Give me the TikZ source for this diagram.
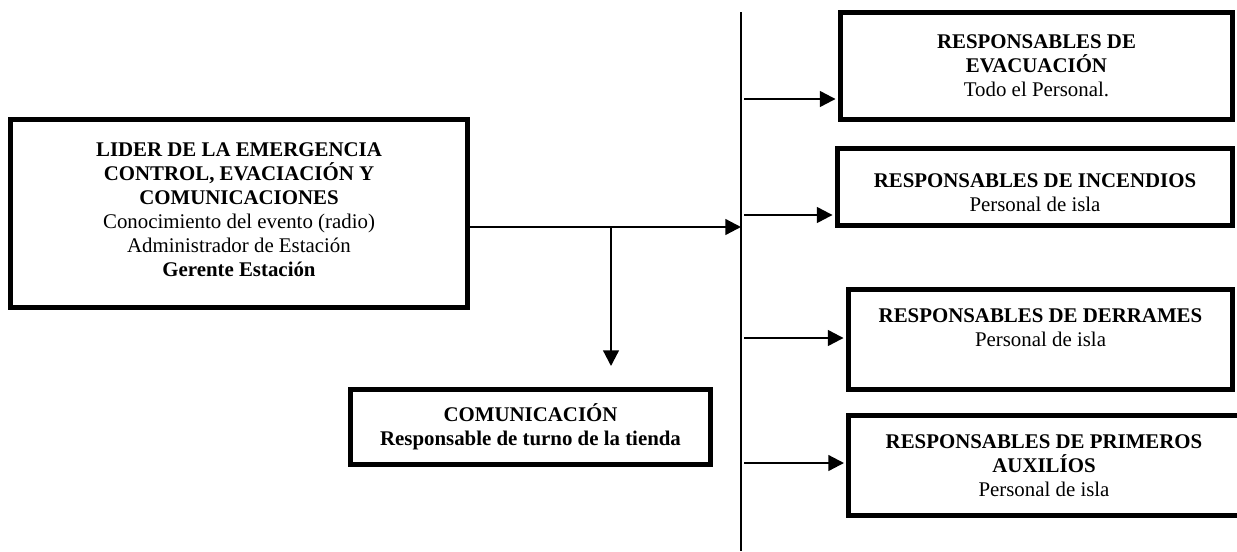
\documentclass[tikz,border=0pt]{standalone}
\usepackage{fontspec}
\setmainfont{Liberation Serif}
\usetikzlibrary{arrows.meta}
\begin{document}
\begin{tikzpicture}[x=0.575pt,y=-0.575pt,>={Triangle[length=9pt,width=9pt]},
  box/.style={draw,line width=2.9pt,align=center,inner sep=0pt,font=\fontsize{12}{13.8}\selectfont},
  link/.style={line width=1.3pt}]
\useasboundingbox (0,0) rectangle (1237,551);
% boxes
\node[box,minimum width=262.8pt,minimum height=108.1pt](lider) at (239,213.5)
  {\textbf{LIDER DE LA EMERGENCIA}\\\textbf{CONTROL, EVACIACIÓN Y}\\\textbf{COMUNICACIONES}\\
   Conocimiento del evento (radio)\\Administrador de Estación\\\textbf{Gerente Estación}\\[-9.2pt]};
\node[box,minimum width=207pt,minimum height=43.1pt](comm) at (530.5,427)
  {\textbf{COMUNICACIÓN}\\\textbf{Responsable de turno de la tienda}};
\node[box,minimum width=225.4pt,minimum height=61.5pt](evac) at (1036.5,66)
  {\textbf{RESPONSABLES DE}\\\textbf{EVACUACIÓN}\\Todo el Personal.};
\node[box,minimum width=227.1pt,minimum height=44.3pt](incend) at (1035,187)
  {\mbox{}\\[1pt]\textbf{RESPONSABLES DE INCENDIOS}\\Personal de isla};
\node[box,minimum width=220.8pt,minimum height=57.5pt](derr) at (1040.5,339.5)
  {\textbf{RESPONSABLES DE DERRAMES}\\Personal de isla\\~};
\node[box,minimum width=224.3pt,minimum height=57.5pt](prim) at (1044,465.5)
  {\textbf{RESPONSABLES DE PRIMEROS}\\\textbf{AUXILÍOS}\\Personal de isla};
% trunk and branches
\coordinate (ttop) at (741,12);
\coordinate (tbot) at (741,551);
\coordinate (split) at (611,227);
\coordinate (drop) at (611,366);
\draw[line width=1.5pt](ttop)--(tbot);
\draw[link,->](lider.east |- split)--(split -| ttop);
\draw[link,->](split)--(drop);
\foreach \b/\y in {evac/99,incend/215,derr/338,prim/463}
  \draw[link,->,shorten >=1.4pt]([xshift=2pt]ttop |- 0,\y)--(\b.west |- 0,\y);
\end{tikzpicture}
\end{document}
